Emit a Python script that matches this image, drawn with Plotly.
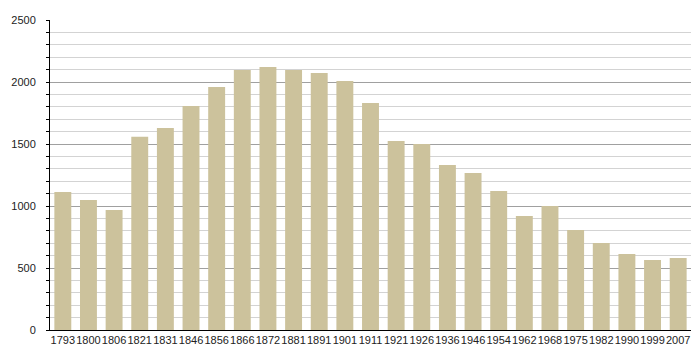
import plotly.graph_objects as go

years = ["1793", "1800", "1806", "1821", "1831", "1846", "1856", "1866", "1872", "1881",
         "1891", "1901", "1911", "1921", "1926", "1936", "1946", "1954", "1962", "1968",
         "1975", "1982", "1990", "1999", "2007"]
population = [1113, 1048, 968, 1559, 1629, 1806, 1960, 2097, 2121, 2097,
              2073, 2008, 1831, 1524, 1500, 1331, 1266, 1121, 919, 1000,
              806, 702, 613, 565, 581]

fig = go.Figure(go.Bar(x=years, y=population, marker=dict(color="#CCC29C", line=dict(width=0)),
                       width=0.66))

# page body has an 8px default margin; size figure so plot area lands at x 50-691, y 20-330
fig.update_layout(
    width=684, height=344,
    margin=dict(l=42, r=1, t=12, b=22),
    paper_bgcolor="white", plot_bgcolor="white",
    showlegend=False,
    font=dict(family="Liberation Sans, Arial, sans-serif", size=11, color="#222"),
)
fig.update_xaxes(type="category", showline=True, linecolor="black", linewidth=1,
                 ticks="", showgrid=False, tickfont=dict(size=11), tickangle=0,
                 automargin=False)
fig.update_yaxes(range=[0, 2500], dtick=500, showline=True, linecolor="black", linewidth=1,
                 ticks="outside", ticklen=3, tickcolor="black",
                 showgrid=True, gridcolor="#A0A0A0", gridwidth=1,
                 zeroline=False, tickfont=dict(size=11), automargin=False,
                 ticklabelstandoff=8,
                 minor=dict(dtick=100, showgrid=True, gridcolor="#D3D3D3", gridwidth=1,
                            ticks="outside", ticklen=3, tickcolor="black"))

fig.write_html("out.html")
